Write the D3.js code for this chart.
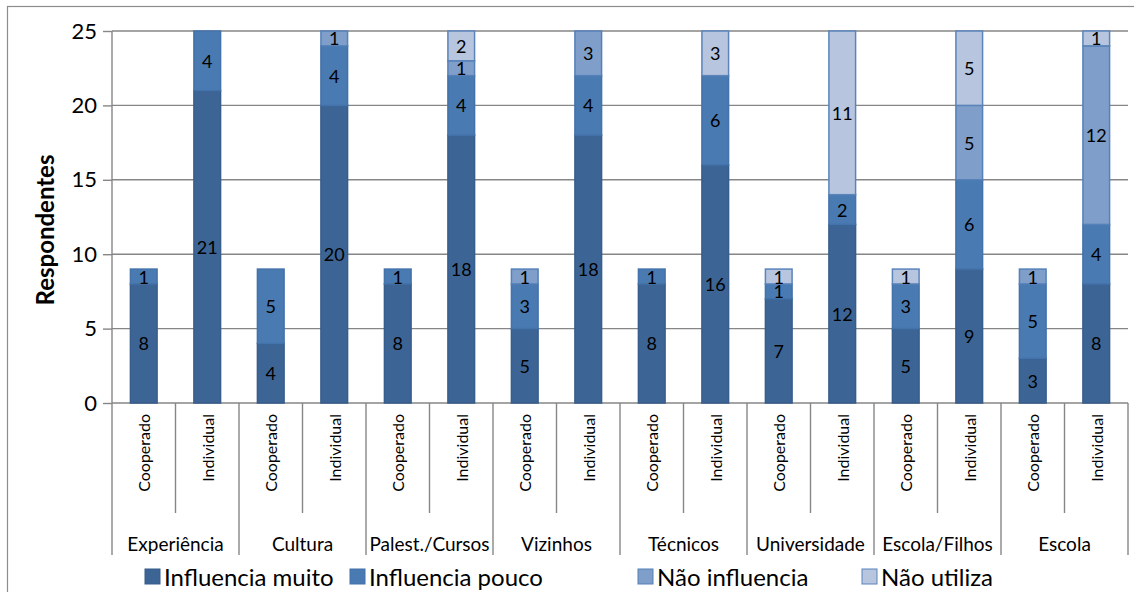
<!DOCTYPE html>
<html>
<head>
<meta charset="utf-8">
<script src="https://cdn.jsdelivr.net/npm/d3@7"></script>
<style>
  html, body { margin: 0; padding: 0; background: #fff; }
  svg { display: block; font-family: Lato, "Open Sans", sans-serif; }
</style>
</head>
<body>
<svg id="grafico" width="1134" height="592"></svg>
<script>
const grupos = ["Experiência", "Cultura", "Palest./Cursos", "Vizinhos", "Técnicos", "Universidade", "Escola/Filhos", "Escola"];
const tipos = ["Cooperado", "Individual"];
const series = ["Influencia muito", "Influencia pouco", "Não influencia", "Não utiliza"];

const influenciaMuito = [8, 21, 4, 20, 8, 18, 5, 18, 8, 16, 7, 12, 5, 9, 3, 8];
const influenciaPouco = [1, 4, 5, 4, 1, 4, 3, 4, 1, 6, 1, 2, 3, 6, 5, 4];
const naoInfluencia   = [0, 0, 0, 1, 0, 1, 1, 3, 0, 0, 0, 0, 0, 5, 1, 12];
const naoUtiliza      = [0, 0, 0, 0, 0, 2, 0, 0, 0, 3, 1, 11, 1, 5, 0, 1];

const yTicks = [0, 5, 10, 15, 20, 25];

const fills   = ["#3c6596", "#4a7ab2", "#7f9ec9", "#b7c5de"];
const strokes = ["#375d8c", "#4472aa", "#5580b8", "#5a84ba"];

// uma linha por barra
const linhas = [];
grupos.forEach((g, gi) => {
  tipos.forEach((t, ti) => {
    const i = gi * tipos.length + ti;
    linhas.push({
      id: i, grupo: g, tipo: t,
      [series[0]]: influenciaMuito[i],
      [series[1]]: influenciaPouco[i],
      [series[2]]: naoInfluencia[i],
      [series[3]]: naoUtiliza[i]
    });
  });
});

const svg = d3.select("#grafico");
const plotLeft = 112, plotRight = 1128, plotTop = 31, plotBottom = 403;

// moldura do grafico (cortada na imagem)
svg.append("rect")
  .attr("x", 7.5).attr("y", 6.5)
  .attr("width", 1160).attr("height", 620)
  .attr("fill", "none")
  .attr("stroke", "#8c8c8c")
  .attr("stroke-width", 1.2);

const x = d3.scaleBand()
  .domain(linhas.map(d => d.id))
  .range([plotLeft, plotRight])
  .paddingInner(0.58)
  .paddingOuter(0.29);

const y = d3.scaleLinear().domain([0, 25]).range([plotBottom, plotTop]);

// grade + eixo y
svg.append("g")
  .attr("transform", `translate(${plotLeft},0)`)
  .call(d3.axisLeft(y).tickValues(yTicks).tickSize(9).tickPadding(6).tickFormat(d3.format("d")))
  .call(g => g.select(".domain").remove())
  .call(g => g.selectAll(".tick line").attr("stroke", "#868686").attr("stroke-width", 1.4))
  .call(g => g.selectAll(".tick text").attr("fill", "#000").style("font-size", "22px").attr("font-family", "Lato"));

svg.append("g").selectAll("line")
  .data(yTicks)
  .join("line")
  .attr("x1", plotLeft).attr("x2", plotRight)
  .attr("y1", d => y(d)).attr("y2", d => y(d))
  .attr("stroke", "#868686")
  .attr("stroke-width", 1.4);

svg.append("line")
  .attr("x1", plotLeft).attr("x2", plotLeft)
  .attr("y1", plotTop).attr("y2", plotBottom)
  .attr("stroke", "#868686").attr("stroke-width", 1.4);

// separadores do eixo x (dois niveis)
const passo = x.step();
d3.range(linhas.length + 1).forEach(i => {
  const xx = x.range()[0] + i * passo;
  svg.append("line")
    .attr("x1", xx).attr("x2", xx)
    .attr("y1", plotBottom)
    .attr("y2", i % tipos.length === 0 ? 555 : 513)
    .attr("stroke", "#868686").attr("stroke-width", 1.4);
});

// barras empilhadas
const pilha = d3.stack().keys(series)(linhas);

const camadas = svg.append("g").selectAll("g")
  .data(pilha)
  .join("g")
  .attr("fill", (d, i) => fills[i])
  .attr("stroke", (d, i) => strokes[i]);

camadas.selectAll("rect")
  .data(d => d.filter(s => s[1] - s[0] > 0))
  .join("rect")
  .attr("x", d => x(d.data.id))
  .attr("width", x.bandwidth())
  .attr("y", d => y(d[1]))
  .attr("height", d => y(d[0]) - y(d[1]))
  .attr("stroke-width", 1.5);

camadas.selectAll("text")
  .data(d => d.filter(s => s[1] - s[0] > 0))
  .join("text")
  .attr("x", d => x(d.data.id) + x.bandwidth() / 2)
  .attr("y", d => (y(d[0]) + y(d[1])) / 2)
  .attr("text-anchor", "middle")
  .attr("dominant-baseline", "central")
  .attr("fill", "#000")
  .attr("stroke", "none")
  .style("font-size", "18px")
  .text(d => d[1] - d[0]);

// rotulos Cooperado / Individual
svg.append("g").selectAll("text")
  .data(linhas)
  .join("text")
  .attr("transform", d => `translate(${x(d.id) + x.bandwidth() / 2},414) rotate(-90)`)
  .attr("text-anchor", "end")
  .attr("dominant-baseline", "central")
  .style("font-size", "16px")
  .text(d => d.tipo);

// rotulos dos grupos
svg.append("g").selectAll("text")
  .data(grupos)
  .join("text")
  .attr("x", (d, i) => x.range()[0] + (i + 0.5) * tipos.length * passo)
  .attr("y", 543)
  .attr("text-anchor", "middle")
  .attr("dominant-baseline", "central")
  .style("font-size", "19px")
  .text(d => d);

// titulo do eixo y
svg.append("text")
  .attr("transform", `translate(44,${(plotTop + plotBottom) / 2 + 13}) rotate(-90)`)
  .attr("text-anchor", "middle")
  .attr("dominant-baseline", "central")
  .style("font-size", "24px")
  .style("font-weight", "bold")
  .text("Respondentes");

// legenda
const legX = [145, 350, 638, 862];
const leg = svg.append("g").selectAll("g")
  .data(series)
  .join("g")
  .attr("transform", (d, i) => `translate(${legX[i]},576)`);

leg.append("rect")
  .attr("x", 0).attr("y", -7)
  .attr("width", 15).attr("height", 15)
  .attr("fill", (d, i) => fills[i])
  .attr("stroke", (d, i) => strokes[i])
  .attr("stroke-width", 1);

leg.append("text")
  .attr("x", 19)
  .attr("dominant-baseline", "central")
  .style("font-size", "24px")
  .text(d => d);
</script>
</body>
</html>
